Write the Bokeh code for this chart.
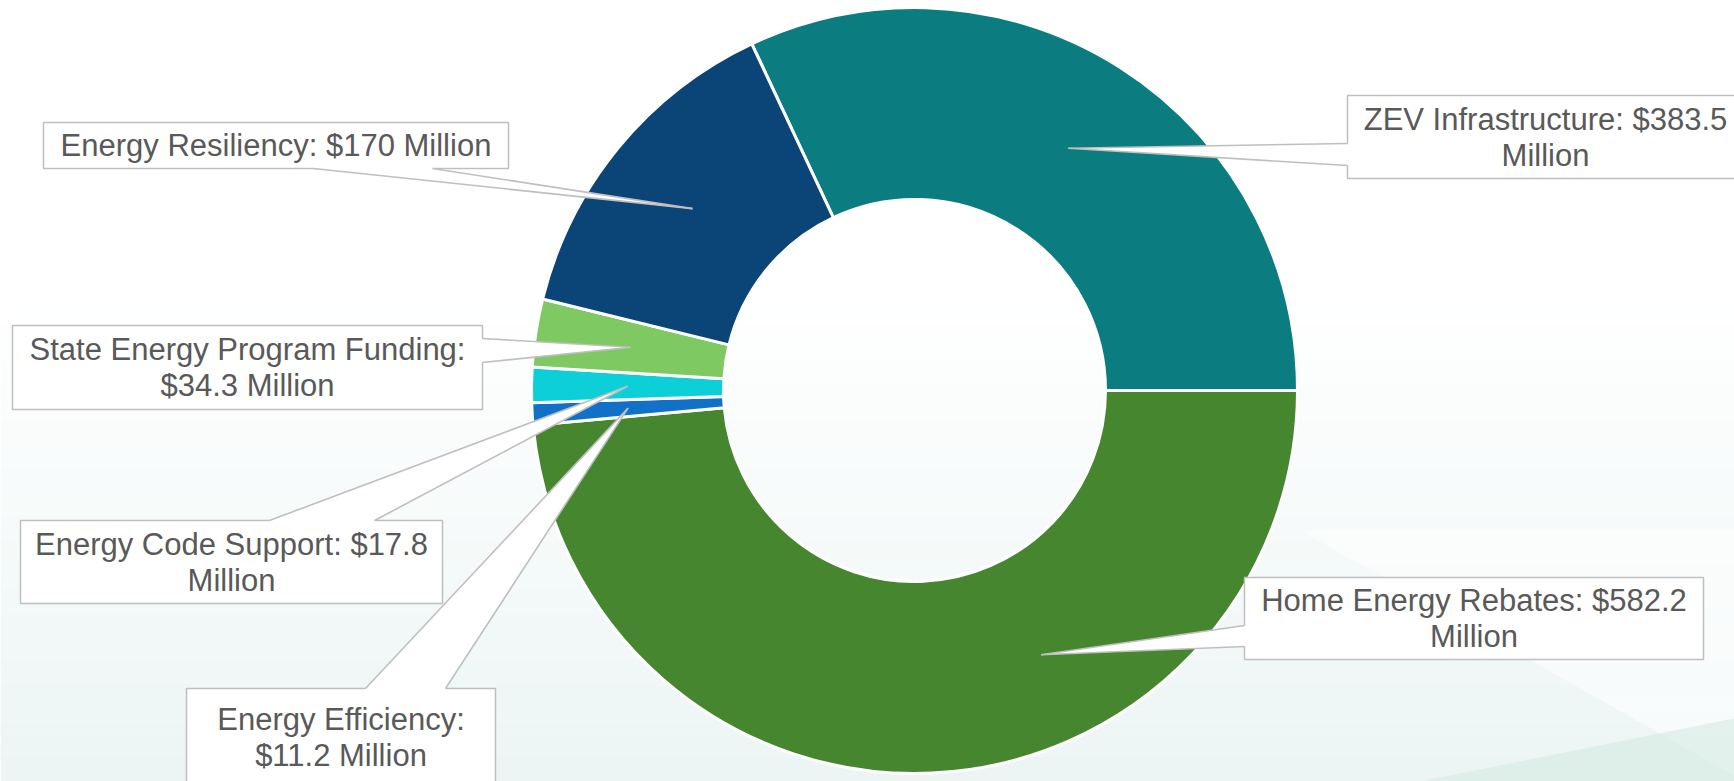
import math
from bokeh.plotting import figure
from bokeh.models import Range1d
from bokeh.embed import file_html
from bokeh.resources import INLINE
from bokeh.core.properties import value

# ---------------- data ----------------
categories = ["ZEV Infrastructure", "Home Energy Rebates", "Energy Efficiency",
              "Energy Code Support", "State Energy Program Funding", "Energy Resiliency"]
amounts = [383.5, 582.2, 11.2, 17.8, 34.3, 170.0]   # $ Million
colors = ["#0B7C80", "#46862F", "#1170C8", "#0CCFD8", "#7FC962", "#0B4477"]
label_lines = [
    ["ZEV Infrastructure: $383.5", "Million"],
    ["Home Energy Rebates: $582.2", "Million"],
    ["Energy Efficiency:", "$11.2 Million"],
    ["Energy Code Support: $17.8", "Million"],
    ["State Energy Program Funding:", "$34.3 Million"],
    ["Energy Resiliency: $170 Million"],
]

# ---------------- layout (reference pixel space, y downward) ----------------
W, H = 1734, 781
def Y(y):
    return H - y

CX, CY = 914, 390
R_OUT, R_IN = 383, 191

boxes = [(1347, 95, 1760, 178), (1244, 577, 1703, 659), (186, 688, 495, 800),
         (20, 520, 442, 603), (12, 325, 482, 409), (43, 122, 508, 168)]
text_cx = [1545, None, None, None, None, None]
bases = [((1347, 143), (1347, 165)), ((1244, 625), (1244, 646)), ((365, 688), (445, 688)),
         ((269, 520), (374, 520)), ((482, 338), (482, 362)), ((313, 168), (432, 168))]
tip_angle_shift = [0, 23.0, 0, 0, 0, 0]   # degrees (label dragged in source)
tip_radius = [287, 293, 287, 287, 287, 287]
line_gap = 36

p = figure(width=W, height=H, x_range=Range1d(0, W), y_range=Range1d(0, H),
           output_backend="svg", toolbar_location=None, min_border=0,
           x_axis_type=None, y_axis_type=None)
p.grid.visible = False
p.outline_line_color = None
p.background_fill_color = "white"
p.border_fill_color = "white"

# ---------------- soft background ----------------
nb = 40
y_top, y_bot = 300, 781
for k in range(nb):
    y0 = y_top + (y_bot - y_top) * k / nb
    y1 = y_top + (y_bot - y_top) * (k + 1) / nb
    a = 0.55 * (k + 0.5) / nb
    p.quad(left=0, right=W, top=Y(y0), bottom=Y(y1), fill_color="#DCEDEB",
           fill_alpha=a, line_color=None)
p.patch(x=[1300, W, W], y=[Y(530), Y(530), Y(775)], fill_color="white", fill_alpha=0.55,
        line_color=None)
p.patch(x=[1420, W, W], y=[Y(781), Y(718), Y(781)], fill_color="#CFE8DD", fill_alpha=0.5,
        line_color=None)

# ---------------- donut ----------------
total = sum(amounts)
start = amounts[0] / total * 360.0
bounds = [start]
acc = 0.0
for v in amounts:
    acc += v
    bounds.append(start - acc / total * 360.0)
starts = [math.radians(bounds[i + 1]) for i in range(len(amounts))]
ends = [math.radians(bounds[i]) for i in range(len(amounts))]
p.annular_wedge(x=[CX] * len(amounts), y=[Y(CY)] * len(amounts), inner_radius=R_IN,
                outer_radius=R_OUT, start_angle=starts, end_angle=ends,
                fill_color=colors, line_color="white", line_width=3)

# ---------------- callouts ----------------
font = value("Liberation Sans")
for i in range(len(amounts)):
    x0, y0, x1, y1 = boxes[i]
    p.quad(left=x0, right=x1, top=Y(y0), bottom=Y(y1), fill_color="white",
           line_color="#BFBFBF", line_width=1.5)

for i in range(len(amounts)):
    mid = (bounds[i] + bounds[i + 1]) / 2.0 + tip_angle_shift[i]
    tx = CX + tip_radius[i] * math.cos(math.radians(mid))
    ty = CY - tip_radius[i] * math.sin(math.radians(mid))
    (bx0, by0), (bx1, by1) = bases[i]
    x0, y0, x1, y1 = boxes[i]
    bcx, bcy = (x0 + x1) / 2, (y0 + y1) / 2
    def inward(bx, by):
        dx, dy = bcx - bx, bcy - by
        if bx in (x0, x1):
            return bx + (3 if dx > 0 else -3), by
        return bx, by + (3 if dy > 0 else -3)
    ix0, iy0 = inward(bx0, by0)
    ix1, iy1 = inward(bx1, by1)
    p.patch(x=[ix0, bx0, tx, bx1, ix1], y=[Y(iy0), Y(by0), Y(ty), Y(by1), Y(iy1)],
            fill_color="white", line_color=None)
    p.multi_line(xs=[[bx0, tx], [bx1, tx]], ys=[[Y(by0), Y(ty)], [Y(by1), Y(ty)]],
                 line_color="#BFBFBF", line_width=1.6)

for i in range(len(amounts)):
    x0, y0, x1, y1 = boxes[i]
    lines = label_lines[i]
    n = len(lines)
    yc = 737 if i == 2 else (y0 + y1) / 2
    xc = text_cx[i] if text_cx[i] is not None else (x0 + x1) / 2
    ys = [yc + (k - (n - 1) / 2) * line_gap for k in range(n)]
    p.text(x=[xc] * n, y=[Y(v) for v in ys], text=lines, text_align="center",
           text_baseline="middle", text_font=font, text_font_size="31px",
           text_color="#595959")

open("out.html", "w").write(file_html(p, INLINE))
